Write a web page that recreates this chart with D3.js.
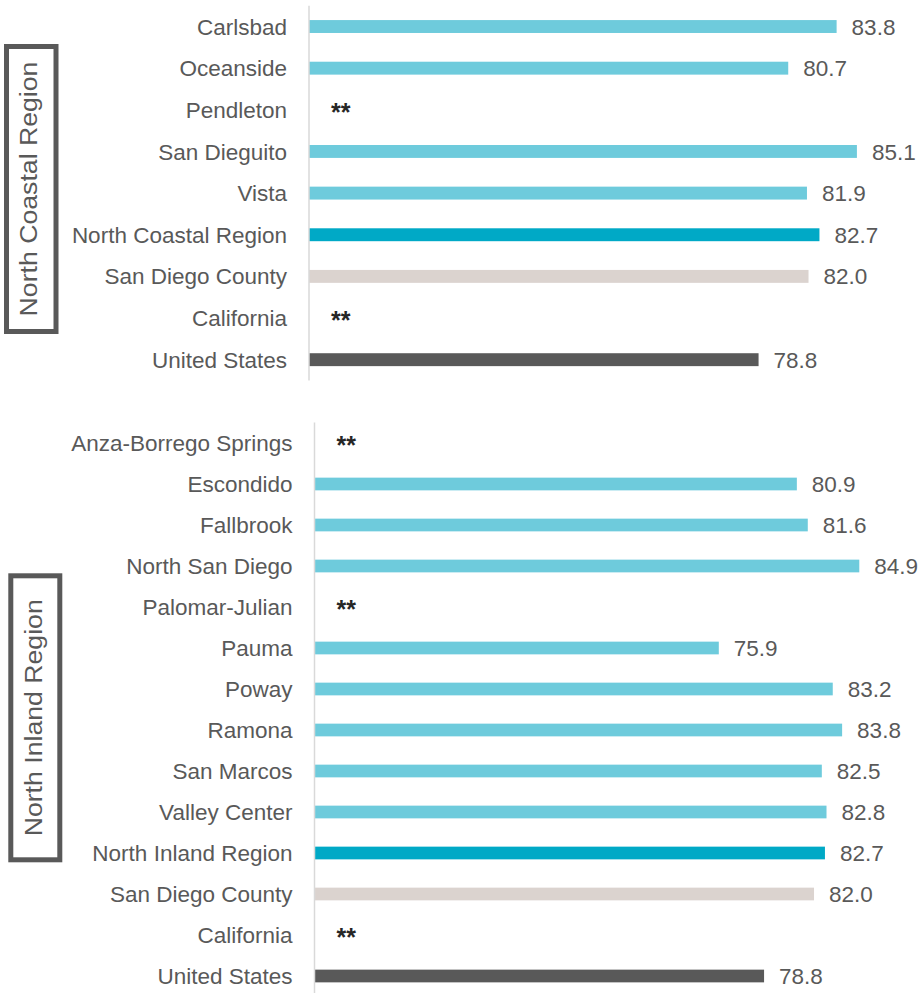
<!DOCTYPE html>
<html>
<head>
<meta charset="utf-8">
<script src="https://cdn.jsdelivr.net/npm/d3@7"></script>
<style>
  html, body { margin: 0; padding: 0; background: #fff; }
  svg { display: block; }
  text { font-family: "Liberation Sans", Arial, sans-serif; }
</style>
</head>
<body>
<svg id="chart" width="919" height="993"></svg>
<script>
// ---- Data ----
const coastalTitle = "North Coastal Region";
const coastalCategories = ["Carlsbad", "Oceanside", "Pendleton", "San Dieguito", "Vista",
  "North Coastal Region", "San Diego County", "California", "United States"];
const coastalValues = [83.8, 80.7, null, 85.1, 81.9, 82.7, 82.0, null, 78.8];

const inlandTitle = "North Inland Region";
const inlandCategories = ["Anza-Borrego Springs", "Escondido", "Fallbrook", "North San Diego",
  "Palomar-Julian", "Pauma", "Poway", "Ramona", "San Marcos", "Valley Center",
  "North Inland Region", "San Diego County", "California", "United States"];
const inlandValues = [null, 80.9, 81.6, 84.9, null, 75.9, 83.2, 83.8, 82.5, 82.8, 82.7, 82.0, null, 78.8];

const missingLabel = "**";
const axisDomain = [50, 90];

// ---- Styles ----
const colors = { town: "#6ECBDC", region: "#00A9C6", county: "#DBD3CF", us: "#595959" };
const textColor = "#595959";

const svg = d3.select("#chart");
svg.append("rect").attr("width", 919).attr("height", 993).attr("fill", "#fff");

function drawPanel(cfg) {
  const { title, categories, values, axisX, yRange, box, titleCx } = cfg;
  const pxPerUnit = 15.61;
  const x = d3.scaleLinear().domain(axisDomain)
    .range([axisX, axisX + (axisDomain[1] - axisDomain[0]) * pxPerUnit]);
  const y = d3.scaleBand().domain(categories).range(yRange)
    .paddingInner(0.69).paddingOuter(0.345);

  const g = svg.append("g");
  const rows = categories.map((c, i) => ({ cat: c, val: values[i] }));
  const kind = c => c === title ? "region" : c === "San Diego County" ? "county" :
    c === "United States" ? "us" : "town";

  // bars
  g.selectAll("rect.bar").data(rows.filter(d => d.val != null)).join("rect")
    .attr("class", "bar")
    .attr("x", x(axisDomain[0]))
    .attr("y", d => y(d.cat))
    .attr("width", d => x(d.val) - x(axisDomain[0]))
    .attr("height", y.bandwidth())
    .attr("fill", d => colors[kind(d.cat)]);

  // axis line
  g.append("line")
    .attr("x1", x(axisDomain[0])).attr("x2", x(axisDomain[0]))
    .attr("y1", yRange[0]).attr("y2", yRange[1])
    .attr("stroke", "#D9D9D9").attr("stroke-width", 1.5);

  // category labels
  g.selectAll("text.cat").data(rows).join("text")
    .attr("class", "cat")
    .attr("x", x(axisDomain[0]) - 22)
    .attr("y", d => y(d.cat) + y.bandwidth() / 2)
    .attr("dy", "0.36em")
    .attr("text-anchor", "end")
    .attr("font-size", 22.5)
    .attr("fill", textColor)
    .text(d => d.cat);

  // value labels
  g.selectAll("text.val").data(rows.filter(d => d.val != null)).join("text")
    .attr("class", "val")
    .attr("x", d => x(d.val) + 15)
    .attr("y", d => y(d.cat) + y.bandwidth() / 2)
    .attr("dy", "0.36em")
    .attr("font-size", 22.5)
    .attr("fill", textColor)
    .text(d => d3.format(".1f")(d.val));

  // missing markers
  g.selectAll("text.miss").data(rows.filter(d => d.val == null)).join("text")
    .attr("class", "miss")
    .attr("x", x(axisDomain[0]) + 22)
    .attr("y", d => y(d.cat) + y.bandwidth() / 2)
    .attr("dy", "0.45em")
    .attr("font-size", 25)
    .attr("font-weight", "bold")
    .attr("fill", "#262626")
    .text(missingLabel);

  // region box
  g.append("rect")
    .attr("x", box[0]).attr("y", box[1]).attr("width", box[2]).attr("height", box[3])
    .attr("fill", "none").attr("stroke", "#595959").attr("stroke-width", 5);
  g.append("text")
    .attr("transform", `translate(${titleCx},${box[1] + box[3] / 2}) rotate(-90) scale(1.16,1)`)
    .attr("text-anchor", "middle")
    .attr("dy", "0.36em")
    .attr("font-size", 23)
    .attr("fill", textColor)
    .text(title);
}

drawPanel({
  title: coastalTitle, categories: coastalCategories, values: coastalValues,
  axisX: 309, yRange: [5.7, 380.5], box: [6.5, 46.5, 49.5, 285], titleCx: 29
});
drawPanel({
  title: inlandTitle, categories: inlandCategories, values: inlandValues,
  axisX: 314.5, yRange: [422.5, 996.5], box: [10.8, 575.8, 49, 284], titleCx: 33.5
});
</script>
</body>
</html>
